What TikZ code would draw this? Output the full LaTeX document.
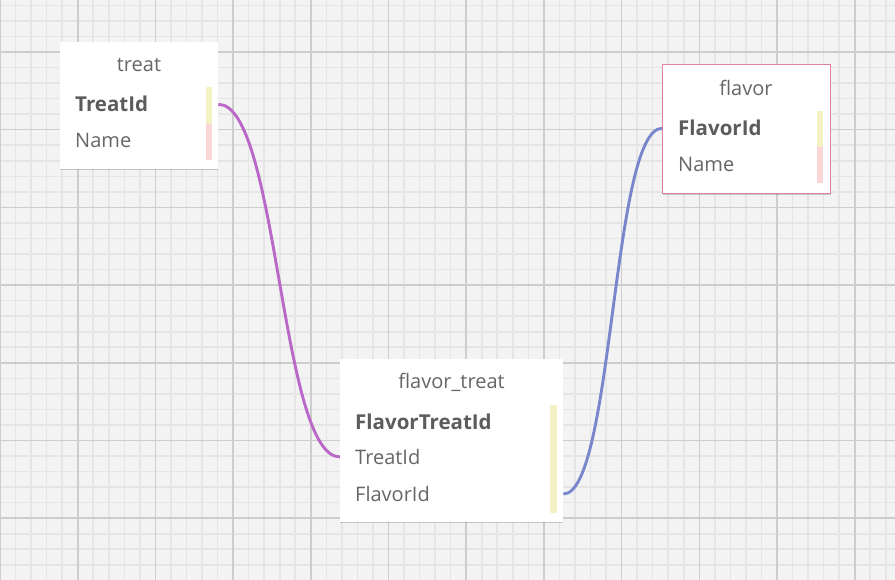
\documentclass[tikz,border=0pt]{standalone}
\usepackage{fontspec}
\setmainfont{Open Sans}
\usetikzlibrary{positioning,shadows}
\definecolor{erdBack}{HTML}{F3F3F3}
\definecolor{erdMinor}{HTML}{E5E5E5}
\definecolor{erdMajor}{HTML}{CDCDCD}
\definecolor{erdText}{HTML}{666666}
\definecolor{erdKeyText}{HTML}{5C5C5C}
\definecolor{erdKey}{HTML}{F4F2C4}
\definecolor{erdName}{HTML}{FAD6D6}
\definecolor{erdPurple}{HTML}{BA68C8}
\definecolor{erdIndigo}{HTML}{7986CB}
\definecolor{erdPink}{HTML}{DE7FA6}
\tikzset{
  tableBox/.style={rectangle, fill=white, draw=none, anchor=north west,
    inner sep=0pt, drop shadow={shadow xshift=0pt, shadow yshift=-1.2pt,
    opacity=0.18, fill=black}},
  tableTitle/.style={anchor=base, inner sep=2pt, text=erdText,
    font=\fontsize{20}{24}\selectfont},
  fieldName/.style={anchor=base west, inner sep=2pt, text=erdText,
    font=\fontsize{20}{24}\selectfont},
  fieldKey/.style={fieldName, text=erdKeyText,
    font=\fontsize{20.5}{24}\selectfont\bfseries},
  keyBar/.style={fill=erdKey, draw=none},
  nameBar/.style={fill=erdName, draw=none},
  linkTreat/.style={-, line width=2.9pt, erdPurple},
  linkFlavor/.style={-, line width=2.9pt, erdIndigo},
}
\begin{document}
\begin{tikzpicture}[x=1pt,y=-1pt]
  \useasboundingbox (0,0) rectangle (895,580);
  \fill[erdBack] (0,0) rectangle (895,580);
  % grid
  \begin{scope}[shift={(0,52)}]
    \draw[erdMinor, line width=1.6pt, step=15.54pt] (0,-52) grid (895,528);
    \draw[erdMajor, line width=1.6pt, step=77.7pt] (0,-52) grid (895,528);
  \end{scope}

  % treat
  \node[tableBox, minimum width=158pt, minimum height=127pt] (treat) at (60,42) {};
  \node[tableTitle] (treatTitle) at (139,71.5) {treat};
  \node[fieldKey] (treatKey) at (73,112) {TreatId};
  \node[fieldName] (treatName) at (73,148) {Name};
  \fill[keyBar] (206,87) rectangle (212,124);
  \fill[nameBar] (206,124) rectangle (212,160);

  % flavor
  \node[tableBox, draw=erdPink, line width=1pt, minimum width=168pt,
    minimum height=129pt] (flavor) at (662,64.5) {};
  \node[tableTitle] (flavorTitle) at (746,95.5) {flavor};
  \node[fieldKey] (flavorKey) at (676,136) {FlavorId};
  \node[fieldName] (flavorName) at (676,172) {Name};
  \fill[keyBar] (817,111) rectangle (823,147);
  \fill[nameBar] (817,147) rectangle (823,183);

  % flavor_treat
  \node[tableBox, minimum width=223pt, minimum height=163pt] (flavorTreat) at (340,359) {};
  \node[tableTitle] (ftTitle) at (451.5,388.5) {flavor\_treat};
  \node[fieldKey] (ftKey) at (353,429) {FlavorTreatId};
  \node[fieldName] (ftTreat) at (353,464.5) {TreatId};
  \node[fieldName] (ftFlavor) at (353,501.5) {FlavorId};
  \fill[keyBar] (550,405) rectangle (557,512.5);

  % links
  \draw[linkTreat] (treat.east |- treatKey) .. controls +(60,0) and +(-60,0) .. (flavorTreat.west |- ftTreat);
  \draw[linkFlavor] (flavorTreat.east |- ftFlavor) .. controls +(50,0) and +(-50,0) .. (flavor.west |- flavorKey);
\end{tikzpicture}
\end{document}
